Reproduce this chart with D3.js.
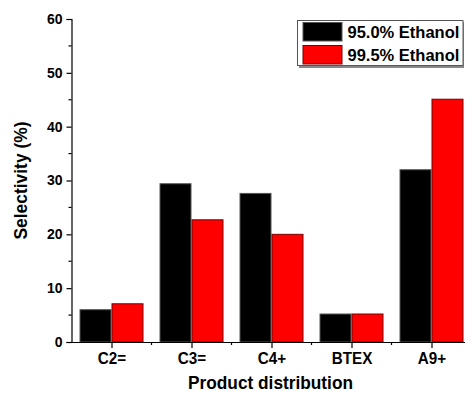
<!DOCTYPE html>
<html>
<head>
<meta charset="utf-8">
<script src="https://cdn.jsdelivr.net/npm/d3@7"></script>
<style>
  html, body { margin: 0; padding: 0; background: #fff; }
  svg { display: block; font-family: "Liberation Sans", Arial, sans-serif; }
</style>
</head>
<body>
<svg id="chart" width="465" height="396"></svg>
<script>
// Selectivity by product group for two ethanol feeds
const categories = ["C2=", "C3=", "C4+", "BTEX", "A9+"];
const seriesNames = ["95.0% Ethanol", "99.5% Ethanol"];
const ethanol950 = [6.0, 29.4, 27.6, 5.2, 32.0];
const ethanol995 = [7.1, 22.7, 20.0, 5.2, 45.1];
const yTicks = [0, 10, 20, 30, 40, 50, 60];
const yMinorTicks = [5, 15, 25, 35, 45, 55];

const fills = ["#000000", "#ff0000"];
const strokes = ["#555555", "#7a0000"];

const svg = d3.select("#chart");
const margin = { left: 71.5, top: 19, bottom: 54 };
const H = 396;
const plotBottom = H - margin.bottom;

// Squeeze text horizontally, keeping its anchor
function condense(sel, factor) {
  sel.each(function () {
    const w = this.getComputedTextLength();
    this.setAttribute("textLength", w * factor);
    this.setAttribute("lengthAdjust", "spacingAndGlyphs");
  });
}

// Each category occupies an 80px slot; the axis runs past the right edge
const x = d3.scaleLinear().domain([0.5, 5.5]).range([margin.left, margin.left + 400]);
const y = d3.scaleLinear().domain([0, 60]).range([plotBottom, margin.top]);

const barW = 32;
const series = [ethanol950, ethanol995];

series.forEach((vals, si) => {
  svg.append("g").selectAll("rect")
    .data(vals)
    .join("rect")
    .attr("x", (d, i) => x(i + 1) - barW + si * barW + 0.5)
    .attr("y", d => y(d))
    .attr("width", barW - 1)
    .attr("height", d => plotBottom - y(d))
    .attr("fill", fills[si])
    .attr("stroke", strokes[si])
    .attr("stroke-width", 1);
});

// Y axis
const yAxis = d3.axisLeft(y).tickValues(yTicks).tickSize(5).tickPadding(4).tickFormat(d3.format("d"));
const gy = svg.append("g").attr("transform", `translate(${margin.left},0)`).call(yAxis);
gy.select(".domain").attr("stroke", "#000").attr("stroke-width", 1.2);
gy.selectAll(".tick line").attr("stroke", "#000").attr("stroke-width", 1.2);
gy.selectAll(".tick text").attr("font-size", 14).attr("font-weight", "bold").attr("fill", "#000");
gy.append("g").selectAll("line")
  .data(yMinorTicks)
  .join("line")
  .attr("x1", -3).attr("x2", 0)
  .attr("y1", d => y(d)).attr("y2", d => y(d))
  .attr("stroke", "#000").attr("stroke-width", 1.2);

// X axis
const xAxis = d3.axisBottom(x).tickValues(d3.range(1, 6)).tickSize(6).tickPadding(5)
  .tickFormat(d => categories[d - 1]).tickSizeOuter(0);
const gx = svg.append("g").attr("transform", `translate(0,${plotBottom})`).call(xAxis);
gx.select(".domain").attr("stroke", "#000").attr("stroke-width", 1.2);
gx.selectAll(".tick line").attr("stroke", "#000").attr("stroke-width", 1.2);
gx.selectAll(".tick text").attr("font-size", 16).attr("font-weight", "bold").attr("fill", "#000")
  .call(condense, 0.95);
gx.append("g").selectAll("line")
  .data(d3.range(1.5, 6, 1))
  .join("line")
  .attr("x1", d => x(d)).attr("x2", d => x(d))
  .attr("y1", 0).attr("y2", 3)
  .attr("stroke", "#000").attr("stroke-width", 1.2);

// Axis titles
svg.append("text")
  .attr("transform", `translate(26.5,${(margin.top + plotBottom) / 2}) rotate(-90)`)
  .attr("text-anchor", "middle")
  .attr("font-size", 18).attr("font-weight", "bold")
  .attr("textLength", 118).attr("lengthAdjust", "spacingAndGlyphs")
  .text("Selectivity (%)");

svg.append("text")
  .attr("x", 270.5).attr("y", 389)
  .attr("text-anchor", "middle")
  .attr("font-size", 18.5).attr("font-weight", "bold")
  .attr("textLength", 165).attr("lengthAdjust", "spacingAndGlyphs")
  .text("Product distribution");

// Legend
const lg = svg.append("g");
lg.append("rect").attr("x", 299).attr("y", 22).attr("width", 165).attr("height", 46).attr("fill", "#888");
lg.append("rect").attr("x", 297.5).attr("y", 20.5).attr("width", 165.5).attr("height", 45)
  .attr("fill", "#fff").attr("stroke", "#555").attr("stroke-width", 1);
seriesNames.forEach((name, i) => {
  const top = 22.5 + i * 23;
  lg.append("rect").attr("x", 303).attr("y", top).attr("width", 39).attr("height", 18.5)
    .attr("fill", fills[i]).attr("stroke", strokes[i]);
  lg.append("text").attr("x", 347.5).attr("y", top + 15.5)
    .attr("font-size", 16.5).attr("font-weight", "bold")
    .text(name);
});
</script>
</body>
</html>
